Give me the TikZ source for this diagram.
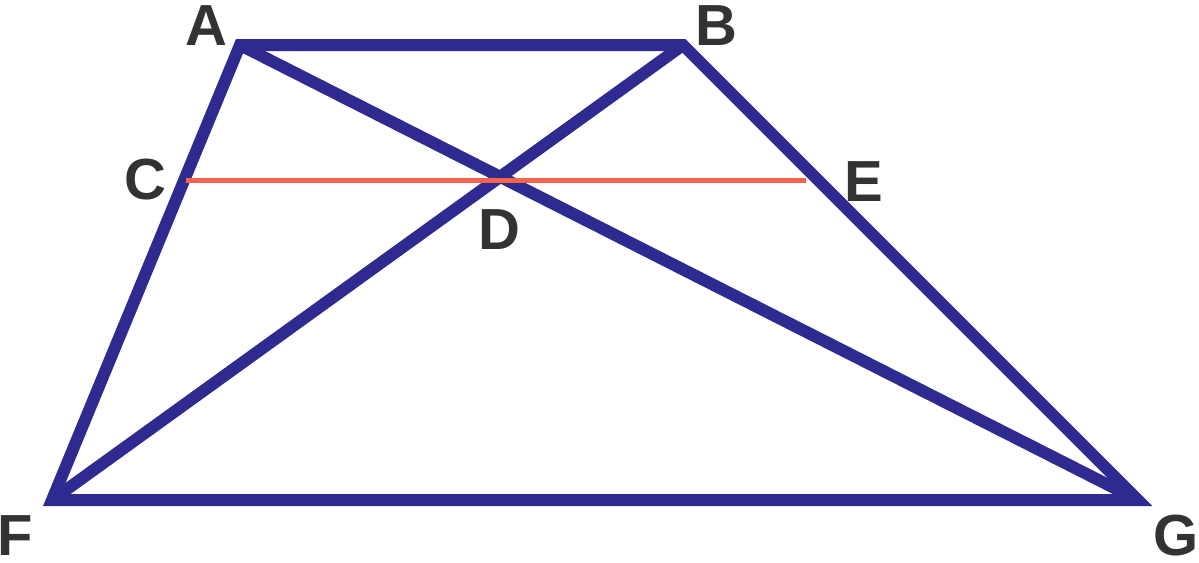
\documentclass[tikz,border=0pt]{standalone}
\usepackage{fontspec}
\setmainfont{Liberation Sans}
\definecolor{tblue}{HTML}{2F2A8F}
\definecolor{tred}{HTML}{F4634B}
\definecolor{tgray}{HTML}{333333}
\begin{document}
\begin{tikzpicture}[x=0.02cm,y=-0.02cm,
  lbl/.style={font=\fontsize{33}{40}\selectfont\bfseries, text=tgray, inner sep=0pt},
  edge/.style={draw=tblue, line width=0.24cm, line join=miter}]
\useasboundingbox (0,0) rectangle (1199,562);
\coordinate (A) at (240,45);
\coordinate (B) at (683,45);
\coordinate (F) at (52,500);
\coordinate (G) at (1138,500);
\coordinate (C) at (186,180);
\coordinate (E) at (806,180);
\draw[edge] (A) -- (B) -- (G) -- (F) -- cycle;
\draw[edge] (A) -- (G);
\draw[edge] (B) -- (F);
\draw[tred, line width=0.1cm] (C) -- (E);
\node[lbl] (lA) at (206,26) {A};
\node[lbl] (lB) at (716,26) {B};
\node[lbl] (lC) at (145,180) {C};
\node[lbl] (lE) at (864,182) {E};
\node[lbl] (lD) at (499,230) {D};
\node[lbl] (lF) at (15,536) {F};
\node[lbl] (lG) at (1176,536) {G};
\end{tikzpicture}
\end{document}
